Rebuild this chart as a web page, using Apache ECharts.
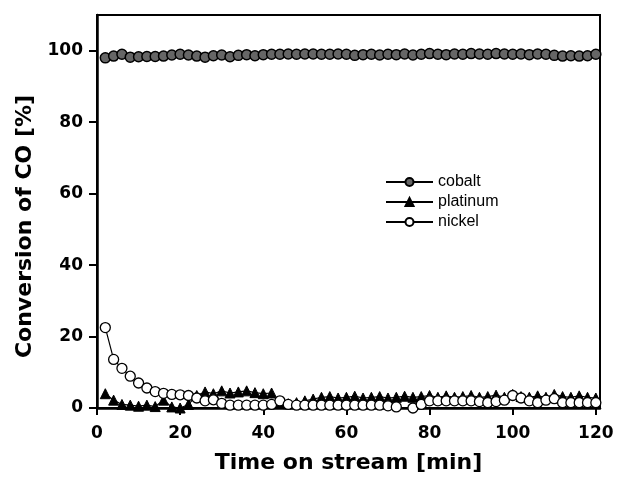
<!DOCTYPE html>
<html>
<head>
<meta charset="utf-8">
<script src="https://cdn.jsdelivr.net/npm/echarts@6/dist/echarts.min.js"></script>
<style>
  html, body { margin: 0; padding: 0; background: #fff; }
  #chart { width: 617px; height: 479px; }
</style>
</head>
<body>
<div id="chart"></div>
<script>
// time on stream [min]
var time = [2, 4, 6, 8, 10, 12, 14, 16, 18, 20, 22, 24, 26, 28, 30, 32, 34, 36, 38, 40,
  42, 44, 46, 48, 50, 52, 54, 56, 58, 60, 62, 64, 66, 68, 70, 72, 74, 76, 78, 80,
  82, 84, 86, 88, 90, 92, 94, 96, 98, 100, 102, 104, 106, 108, 110, 112, 114, 116, 118, 120];

var cobalt = [98.0, 98.5, 99.0, 98.2, 98.3, 98.4, 98.4, 98.5, 98.8, 99.0,
  98.8, 98.5, 98.2, 98.6, 98.8, 98.3, 98.7, 98.9, 98.6, 98.9,
  99.0, 99.0, 99.1, 99.0, 99.1, 99.1, 99.0, 99.0, 99.1, 99.0,
  98.7, 98.9, 99.0, 98.8, 99.0, 98.9, 99.1, 98.8, 99.0, 99.2,
  99.0, 98.9, 99.1, 99.0, 99.2, 99.1, 99.0, 99.2, 99.1, 99.0,
  99.1, 98.9, 99.1, 99.0, 98.7, 98.5, 98.6, 98.5, 98.6, 99.0];

var platinum = [4.0, 2.2, 1.0, 0.8, 0.5, 0.8, 0.4, 2.2, 0.3, 0.0,
  1.0, 3.5, 4.5, 4.0, 4.8, 4.2, 4.5, 4.8, 4.3, 4.0,
  4.2, 1.5, 1.2, 1.5, 2.0, 2.5, 3.0, 3.2, 2.8, 3.0,
  3.3, 2.8, 3.0, 3.2, 2.8, 3.0, 3.3, 3.0, 3.2, 3.5,
  3.0, 3.4, 3.0, 3.2, 3.5, 3.0, 3.2, 3.6, 3.0, 3.8,
  3.2, 3.0, 3.4, 3.0, 3.8, 3.2, 3.0, 3.4, 3.0, 2.8];

var nickel = [22.5, 13.6, 11.1, 8.9, 7.0, 5.6, 4.6, 4.1, 3.8, 3.7,
  3.5, 2.8, 2.0, 2.3, 1.3, 0.8, 0.8, 0.8, 0.8, 0.8,
  1.0, 2.0, 1.0, 0.8, 0.8, 0.8, 0.8, 0.8, 0.8, 0.8,
  0.8, 0.8, 0.8, 0.8, 0.6, 0.3, -0.3, 0.0, 1.0, 2.0,
  2.0, 2.0, 2.0, 2.0, 2.0, 1.8, 1.5, 1.8, 2.2, 3.5,
  2.8, 2.0, 1.5, 2.2, 2.6, 1.5, 1.5, 1.5, 1.5, 1.5];

var xTicks = [0, 20, 40, 60, 80, 100, 120];
var yTicks = [0, 20, 40, 60, 80, 100];

function pairs(ys) {
  return time.map(function (t, i) { return [t, ys[i]]; });
}

var chart = echarts.init(document.getElementById('chart'), null, { renderer: 'canvas' });

var boldFont = { fontFamily: 'DejaVu Sans, sans-serif', fontWeight: 'bold', color: '#000' };

var option = {
  backgroundColor: '#ffffff',
  animation: false,
  grid: {
    left: 97, right: 17, top: 15, bottom: 66,
    show: true, borderColor: '#000', borderWidth: 2
  },
  legend: {
    orient: 'vertical',
    left: 385, top: 174, padding: 0,
    itemWidth: 47, itemHeight: 10, itemGap: 4,
    textStyle: { fontFamily: 'Liberation Sans, Arial, sans-serif', fontSize: 16, color: '#000' },
    data: ['cobalt', 'platinum', 'nickel']
  },
  xAxis: {
    type: 'value', min: 0, max: 121,
    name: 'Time on stream [min]',
    nameLocation: 'middle', nameGap: 44,
    nameTextStyle: Object.assign({ fontSize: 22 }, boldFont),
    axisLine: { lineStyle: { color: '#000', width: 2.5 } },
    axisTick: { length: 7, lineStyle: { color: '#000', width: 2 }, customValues: xTicks },
    axisLabel: Object.assign({ fontSize: 17, margin: 17, customValues: xTicks }, boldFont),
    splitLine: { show: false }
  },
  yAxis: {
    type: 'value', min: 0, max: 110,
    name: 'Conversion of CO [%]',
    nameLocation: 'middle', nameGap: 52,
    nameTextStyle: Object.assign({ fontSize: 22, padding: [0, 30, 0, 0] }, boldFont),
    axisLine: { lineStyle: { color: '#000', width: 2.5 } },
    axisTick: { length: 8, lineStyle: { color: '#000', width: 2 }, customValues: yTicks },
    axisLabel: Object.assign({ fontSize: 17, margin: 14, customValues: yTicks }, boldFont),
    splitLine: { show: false }
  },
  series: [
    {
      name: 'cobalt', type: 'line', data: pairs(cobalt),
      symbol: 'circle', symbolSize: 10,
      itemStyle: { color: '#666666', borderColor: '#000', borderWidth: 1.5 },
      lineStyle: { color: '#000', width: 1.2 }
    },
    {
      name: 'platinum', type: 'line', data: pairs(platinum),
      symbol: 'triangle', symbolSize: 10,
      itemStyle: { color: '#000', borderColor: '#000', borderWidth: 1 },
      lineStyle: { color: '#000', width: 1.2 }
    },
    {
      name: 'nickel', type: 'line', data: pairs(nickel),
      symbol: 'circle', symbolSize: 10,
      itemStyle: { color: '#fff', borderColor: '#000', borderWidth: 1.3 },
      lineStyle: { color: '#000', width: 1.2 }
    }
  ]
};

chart.setOption(option);
</script>
</body>
</html>
